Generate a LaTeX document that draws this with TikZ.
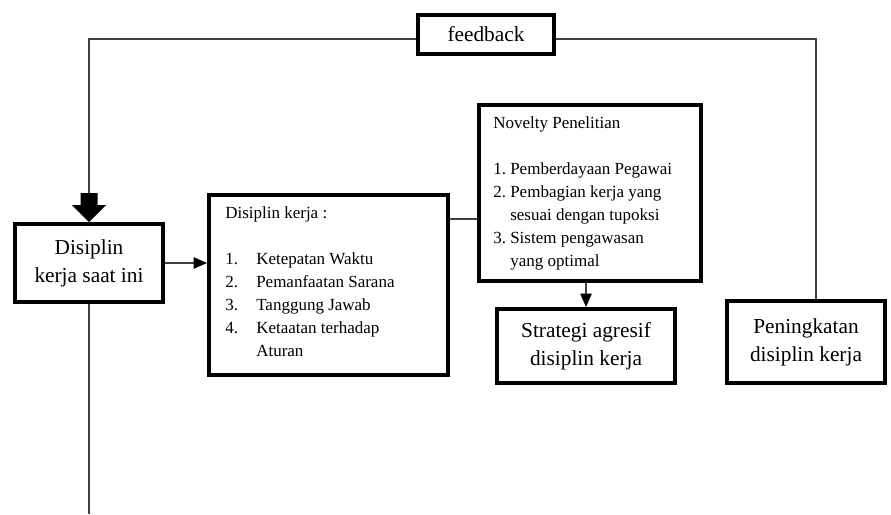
\documentclass[tikz,border=0pt]{standalone}
\usepackage{fontspec}
\setmainfont{Liberation Serif}
\usetikzlibrary{arrows.meta}

\begin{document}
\begin{tikzpicture}[x=0.75pt,y=-0.75pt,
    box/.style={draw,line width=3pt,inner sep=0pt,align=center,font=\fontsize{16}{21}\selectfont},
    link/.style={draw=black!75,line width=1.1pt},
    tip/.style={-{Triangle[length=10pt,width=8.5pt,color=black]}},
    small/.style={inner sep=0pt,anchor=north west,align=left,font=\fontsize{12.75}{17.25}\selectfont}]
    \useasboundingbox (0,0) rectangle (891,514);

    % Boxes
    \node[box,minimum width=102pt,minimum height=29.25pt] (fb) at (486,34.5) {feedback};
    \node[box,minimum width=111pt,minimum height=58.5pt] (now) at (89,263) {Disiplin\\kerja saat ini};
    \node[box,minimum width=179.25pt,minimum height=135pt] (dk) at (328.5,285) {};
    \node[box,minimum width=166.5pt,minimum height=132pt] (nov) at (590,193) {};
    \node[box,minimum width=133.5pt,minimum height=55.5pt] (strat) at (586,346) {Strategi agresif\\disiplin kerja};
    \node[box,minimum width=118.5pt,minimum height=61.5pt] (pen) at (806,342) {Peningkatan\\disiplin kerja};

    % Texts of the two list boxes
    \node[small] (dklist) at ([xshift=13.5pt,yshift=-9.75pt]dk.north west) {Disiplin kerja :\\[17.25pt]
        \makebox[23.25pt][l]{1.}Ketepatan Waktu\\
        \makebox[23.25pt][l]{2.}Pemanfaatan Sarana\\
        \makebox[23.25pt][l]{3.}Tanggung Jawab\\
        \makebox[23.25pt][l]{4.}Ketaatan terhadap\\
        \hspace*{23.25pt}Aturan};
    \node[small] (novlist) at ([xshift=12pt,yshift=-9.75pt]nov.north west) {Novelty Penelitian\\[17.25pt]
        \makebox[12.75pt][l]{1.}Pemberdayaan Pegawai\\
        \makebox[12.75pt][l]{2.}Pembagian kerja yang\\
        \hspace*{12.75pt}sesuai dengan tupoksi\\
        \makebox[12.75pt][l]{3.}Sistem pengawasan\\
        \hspace*{12.75pt}yang optimal};

    % Feedback loop
    \coordinate (tl) at (89,39);
    \coordinate (tr) at (816,39);
    \coordinate (bl) at (89,514);
    \draw[link] (fb.west |- tl) -- (tl) -- ([yshift=21pt]now.north);
    \fill (now.north) -- ++(-17,-17) -- ++(8.5,0) -- ++(0,-12) -- ++(17,0) -- ++(0,12) -- ++(8.5,0) -- cycle;
    \draw[link] (fb.east |- tr) -- (tr) -- (tr |- pen.north);

    % Connectors
    \draw[link,tip] (now.east) -- (now.east -| dk.west);
    \draw[link] ([yshift=49.5pt]dk.east) -- ([yshift=49.5pt]dk.east -| nov.west);
    \draw[link,tip] (strat.north |- nov.south) -- (strat.north);
    \draw[link] (now.south) -- (now.south |- bl);
\end{tikzpicture}
\end{document}
